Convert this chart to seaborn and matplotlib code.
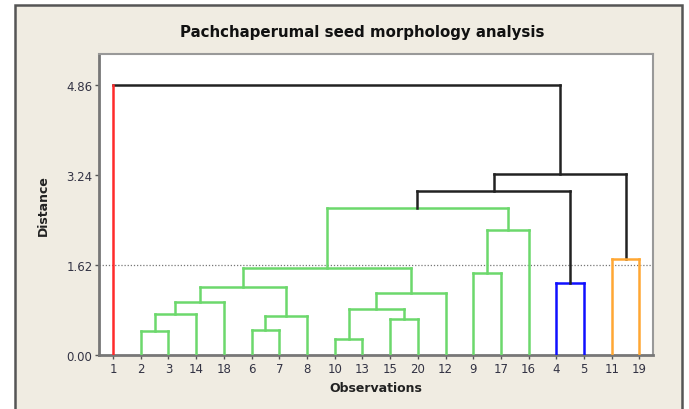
import pandas as pd
import numpy as np
import matplotlib
matplotlib.use('Agg')
import matplotlib.pyplot as plt
from matplotlib.patches import Rectangle
import seaborn as sns

# 葉の並び順（観測番号）
leaves = [1, 2, 3, 14, 18, 6, 7, 8, 10, 13, 15, 20, 12, 9, 17, 16, 4, 5, 11, 19]

# 結合: (名前, 左, 右, 距離, 色グループ)
merge_names = ['a', 'b', 'c', 'd', 'e', 'f', 'g', 'h', 'i', 'j',
               'k', 'l', 'm', 'n', 'o', 'p', 'q', 'r', 's']
merge_left = [2, 'a', 'b', 6, 'd', 'c', 10, 15, 'g', 'i',
              'f', 9, 'l', 'k', 4, 'n', 11, 'p', 1]
merge_right = [3, 14, 18, 7, 8, 'e', 13, 20, 'h', 12,
               'j', 17, 16, 'm', 5, 'o', 19, 'q', 'r']
merge_height = [0.43, 0.74, 0.96, 0.45, 0.70, 1.23, 0.28, 0.64, 0.83, 1.12,
                1.57, 1.47, 2.24, 2.64, 1.29, 2.95, 1.73, 3.25, 4.86]
merge_group = ['green'] * 14 + ['blue', 'black', 'orange', 'black', 'black']

# 単独クラスタ
single_leaves = {1: 'red'}

cut_level = 1.62
yticks = [0.00, 1.62, 3.24, 4.86]

palette = {'green': '#6cd86c', 'blue': '#1010ff', 'orange': '#ffa733',
           'black': '#222222', 'red': '#ff2a2a'}

# 樹形図の線分を作る
pos = {lf: i for i, lf in enumerate(leaves)}
hgt = {lf: 0.0 for lf in leaves}
rows = []
for n, l, r, h, g in zip(merge_names, merge_left, merge_right, merge_height, merge_group):
    xl, xr = pos[l], pos[r]
    cl = single_leaves.get(l, g)
    cr = single_leaves.get(r, g)
    rows += [(n + 'L', cl, xl, hgt[l]), (n + 'L', cl, xl, h)]
    rows += [(n + 'H', g, xl, h), (n + 'H', g, xr, h)]
    rows += [(n + 'R', cr, xr, h), (n + 'R', cr, xr, hgt[r])]
    pos[n] = (xl + xr) / 2
    hgt[n] = h
df = pd.DataFrame(rows, columns=['seg', 'group', 'x', 'y'])

fig = plt.figure(figsize=(6.89, 4.10), dpi=100)
fig.patch.set_facecolor('white')
fig.patches.append(Rectangle((15 / 689, -0.05), 667 / 689, 1.05 - 6 / 410,
                             transform=fig.transFigure, facecolor='#f0ece2',
                             edgecolor='#555555', linewidth=1.8, zorder=-10))
ax = fig.add_axes([0.1444, 0.1317, 0.8034, 0.7342])
ax.set_facecolor('white')

ax.axhline(cut_level, color='#777777', linestyle=(0, (1, 1.5)), linewidth=0.9, zorder=1)
sns.lineplot(data=df, x='x', y='y', hue='group', units='seg', estimator=None,
             sort=False, palette=palette, linewidth=1.8, legend=False, ax=ax, zorder=3)

ax.set_xlim(-0.49, len(leaves) - 0.51)
ax.set_ylim(0, 5.41)
ax.set_xticks(range(len(leaves)))
ax.set_xticklabels([str(v) for v in leaves])
ax.set_yticks(yticks)
ax.set_yticklabels([f'{v:.2f}' for v in yticks])
ax.tick_params(axis='both', labelsize=8.5, colors='#555555', length=3, width=1,
               labelcolor='#333344', pad=2)

for s in ['left', 'bottom']:
    ax.spines[s].set_color('#777777')
    ax.spines[s].set_linewidth(2)
for s in ['top', 'right']:
    ax.spines[s].set_color('#999999')
    ax.spines[s].set_linewidth(1.5)

ax.set_xlabel('Observations', fontsize=9, fontweight='bold', color='#222222', labelpad=4)
ax.set_ylabel('Distance', fontsize=9, fontweight='bold', color='#222222', labelpad=12)
fig.text(362 / 689, 1 - 33 / 410, 'Pachchaperumal seed morphology analysis',
         ha='center', va='center', fontsize=10.8, fontweight='bold', color='#111111')

fig.savefig('out.png', dpi=100)
